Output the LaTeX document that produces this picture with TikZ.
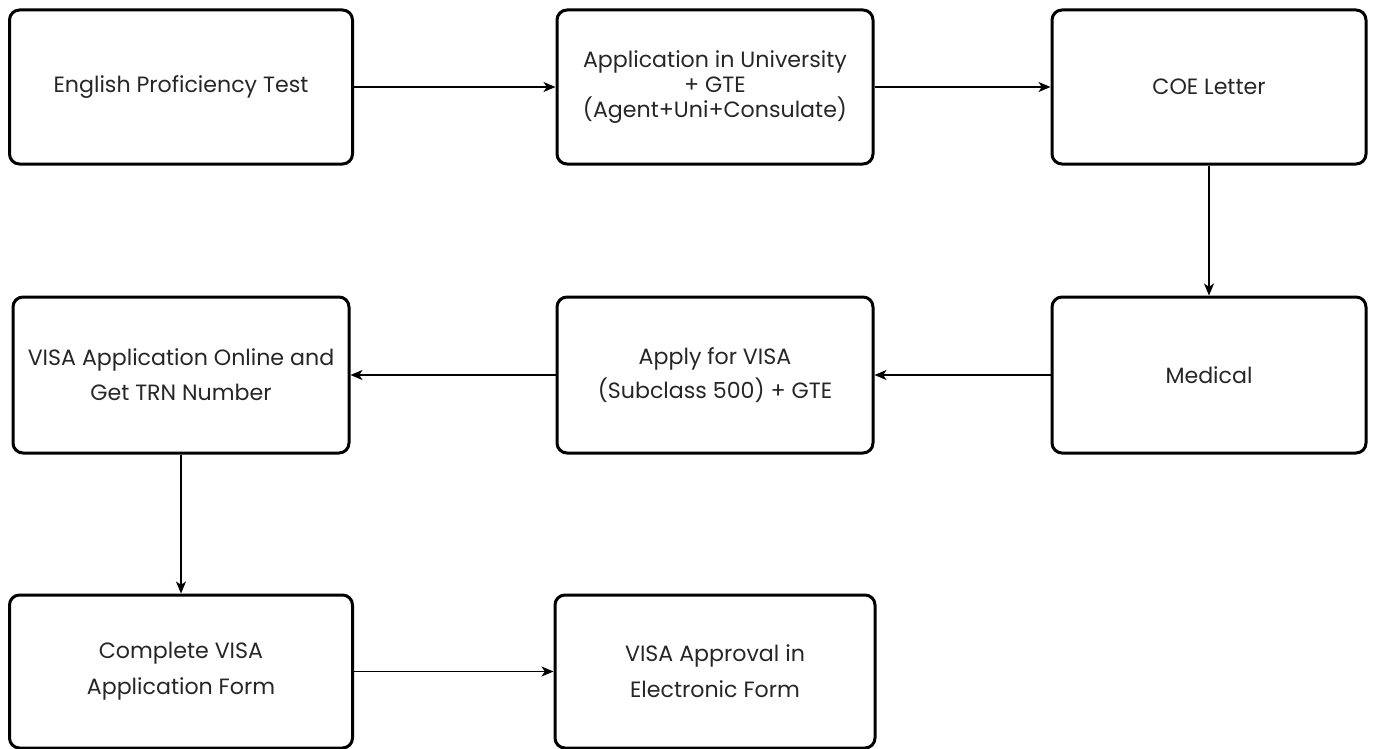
\documentclass[tikz,border=0pt]{standalone}
\usepackage{fontspec}
\setmainfont{Poppins}
\usetikzlibrary{arrows.meta}
\begin{document}
\begin{tikzpicture}[x=0.75pt,y=-0.75pt,
  box/.style={draw=black, line width=2.25pt, rounded corners=7.5pt, align=center, inner sep=0pt,
    font=\fontsize{16.6}{18.75}\selectfont, text=black!85},
  conn/.style={line width=1.1pt, -{Stealth[length=9pt,width=7.5pt,inset=2.5pt]}}]
\useasboundingbox (0,0) rectangle (1374,749);
\node[box, minimum width=257.25pt, minimum height=115.5pt] (b1) at (181,87) {English Proficiency Test};
\node[box, minimum width=237pt, minimum height=115.5pt] (b2) at (715,87) {Application in University\\+ GTE\\(Agent+Uni+Consulate)};
\node[box, minimum width=235.5pt, minimum height=115.5pt] (b3) at (1209,87) {COE Letter};
\node[box, minimum width=252pt, minimum height=117pt, font=\fontsize{16.6}{26}\selectfont] (b4) at (181,375) {VISA Application Online and\\Get TRN Number};
\node[box, minimum width=237pt, minimum height=117pt, font=\fontsize{16.6}{25}\selectfont] (b5) at (715,375) {Apply for VISA\\(Subclass 500) + GTE};
\node[box, minimum width=235.5pt, minimum height=117pt] (b6) at (1209,375) {Medical};
\node[box, minimum width=257.25pt, minimum height=114.75pt, font=\fontsize{16.6}{27}\selectfont] (b7) at (181,671.5) {Complete VISA\\Application Form};
\node[box, minimum width=240pt, minimum height=114.75pt, font=\fontsize{16.6}{27}\selectfont] (b8) at (715,671.5) {VISA Approval in\\Electronic Form};
\draw[conn] (b1.east) -- (b2.west);
\draw[conn] (b2.east) -- (b3.west);
\draw[conn] (b3.south) -- (b6.north);
\draw[conn] (b6.west) -- (b5.east);
\draw[conn] (b5.west) -- (b4.east);
\draw[conn] (b4.south) -- (b7.north);
\draw[conn] (b7.east) -- (b8.west);
\end{tikzpicture}
\end{document}
